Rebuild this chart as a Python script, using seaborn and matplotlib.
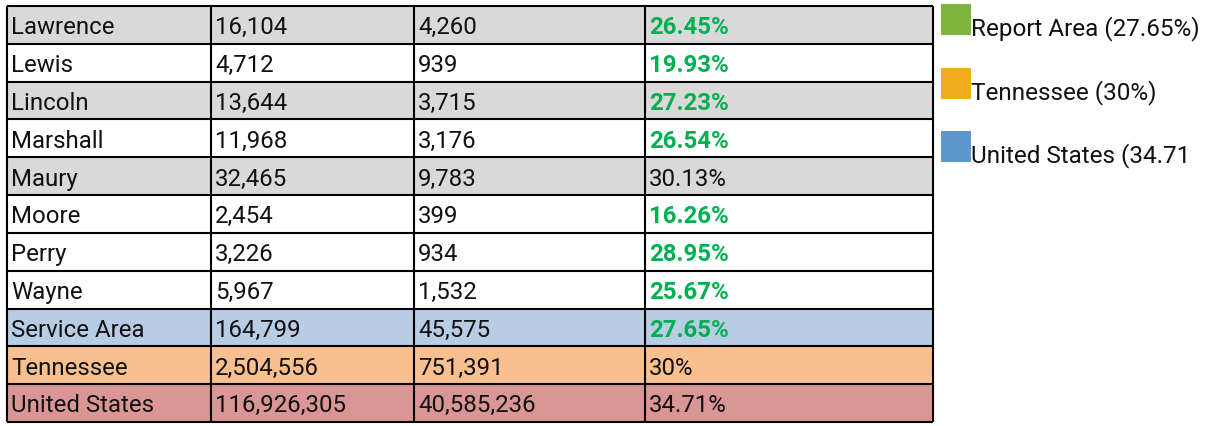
import numpy as np
import matplotlib
matplotlib.use("Agg")
import matplotlib.pyplot as plt
import seaborn as sns
from matplotlib.colors import ListedColormap
from matplotlib.patches import Rectangle

# table data
areas = ["Lawrence", "Lewis", "Lincoln", "Marshall", "Maury", "Moore", "Perry",
         "Wayne", "Service Area", "Tennessee", "United States"]
total_pop = ["16,104", "4,712", "13,644", "11,968", "32,465", "2,454", "3,226",
             "5,967", "164,799", "2,504,556", "116,926,305"]
group_pop = ["4,260", "939", "3,715", "3,176", "9,783", "399", "934",
             "1,532", "45,575", "751,391", "40,585,236"]
pct_values = [26.45, 19.93, 27.23, 26.54, 30.13, 16.26, 28.95, 25.67, 27.65, 30, 34.71]
pct_labels = ["26.45%", "19.93%", "27.23%", "26.54%", "30.13%", "16.26%", "28.95%",
              "25.67%", "27.65%", "30%", "34.71%"]
# row shading: 0 grey, 1 white, 2 blue, 3 orange, 4 red
row_style = [0, 1, 0, 1, 0, 1, 1, 1, 2, 3, 4]

legend_labels = ["Report Area (27.65%)", "Tennessee (30%)", "United States (34.71"]
legend_colors = ["#7DB53F", "#F0AC1F", "#5E97CB"]

row_colors = ["#D9D9D9", "#FFFFFF", "#B8CCE4", "#F8BF8F", "#DA9694"]
green = "#00B050"
tn_pct = pct_values[areas.index("Tennessee")]

sns.set_theme(style="white")
plt.rcParams['font.family'] = ['Roboto', 'DejaVu Sans']

W, H = 1212, 427
fig = plt.figure(figsize=(W / 100, H / 100), dpi=100)
left, right, top, bottom = 7, 933, 7, 423
ax = fig.add_axes([left / W, 1 - bottom / H, (right - left) / W, (bottom - top) / H])

grid = np.array(row_style).reshape(-1, 1)
sns.heatmap(grid, ax=ax, cmap=ListedColormap(row_colors), vmin=-0.5, vmax=4.5,
            cbar=False, xticklabels=False, yticklabels=False)
ax.set_xlim(0, 1)

# column edges in pixels -> axes fraction
col_px = [7, 211, 414, 645, 933]
col_x = [(c - left) / (right - left) for c in col_px]
n = len(areas)

lw = 1.5
ax.hlines(np.arange(n + 1), 0, 1, colors="black", linewidth=lw, clip_on=False)
ax.vlines(col_x, 0, n, colors="black", linewidth=lw, clip_on=False)

pad = 4 / (right - left)
fs = 17.3
txt = "#111111"
for i in range(n):
    yb = i + 0.72
    ax.text(col_x[0] + pad, yb, areas[i], fontsize=fs, va="baseline", color=txt)
    ax.text(col_x[1] + pad, yb, total_pop[i], fontsize=fs, va="baseline", color=txt)
    ax.text(col_x[2] + pad, yb, group_pop[i], fontsize=fs, va="baseline", color=txt)
    if pct_values[i] < tn_pct:
        ax.text(col_x[3] + pad, yb, pct_labels[i], fontsize=fs, va="baseline",
                color=green, fontweight="bold")
    else:
        ax.text(col_x[3] + pad, yb, pct_labels[i], fontsize=fs, va="baseline", color=txt)

for s in ax.spines.values():
    s.set_visible(False)

# legend on the right
sq_top = [5, 69, 132]
for lab, col, t in zip(legend_labels, legend_colors, sq_top):
    fig.add_artist(Rectangle((941 / W, 1 - (t + 31) / H), 30 / W, 31 / H,
                             transform=fig.transFigure, color=col, lw=0))
    fig.text(971 / W, 1 - (t + 30) / H, lab, fontsize=17.5, va="baseline", color=txt)

fig.savefig("out.png", dpi=100)
